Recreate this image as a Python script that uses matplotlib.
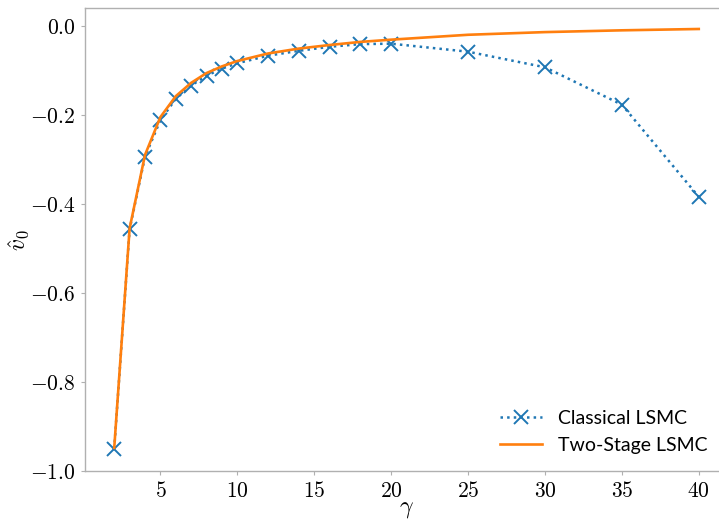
import matplotlib

matplotlib.use("Agg")
import matplotlib.pyplot as plt
from matplotlib.ticker import FuncFormatter

plt.rcParams["mathtext.fontset"] = "cm"

# gamma values and estimated initial values v0
gammas = [2, 3, 4, 5, 6, 7, 8, 9, 10, 12, 14, 16, 18, 20, 25, 30, 35, 40]
classical = [-0.950, -0.457, -0.294, -0.212, -0.164, -0.134, -0.112, -0.096,
             -0.084, -0.067, -0.056, -0.047, -0.041, -0.040, -0.058, -0.093,
             -0.177, -0.384]
two_stage = [-0.948, -0.455, -0.290, -0.205, -0.158, -0.128, -0.106, -0.091,
             -0.079, -0.062, -0.051, -0.043, -0.036, -0.031, -0.020, -0.014,
             -0.010, -0.007]

fig = plt.figure(figsize=(7.19, 5.21), dpi=100)
ax = fig.add_axes([85 / 719, 50 / 521, 643 / 719, 463 / 521])

ax.plot(gammas, classical, linestyle=":", marker="x", color="#1f77b4",
        linewidth=1.8, markersize=9.5, markeredgewidth=1.4,
        label="Classical LSMC")
ax.plot(gammas, two_stage, linestyle="-", color="#ff7f0e",
        linewidth=1.9, label="Two-Stage LSMC")

ax.set_xticks([5, 10, 15, 20, 25, 30, 35, 40])
ax.set_yticks([0.0, -0.2, -0.4, -0.6, -0.8, -1.0])
ax.xaxis.set_major_formatter(FuncFormatter(lambda v, _: f"${int(v)}$"))
ax.yaxis.set_major_formatter(FuncFormatter(lambda v, _: f"${v:.1f}$"))
ax.tick_params(axis="both", which="major", labelsize=15.5, length=3,
               width=0.8, color="#b0b0b0", pad=4)

for side in ax.spines.values():
    side.set_color("#b0b0b0")
    side.set_linewidth(1.0)

ax.set_xlabel(r"$\gamma$", fontsize=17)
ax.set_ylabel(r"$\hat{v}_0$", fontsize=17)
ax.xaxis.set_label_coords(0.5, -0.054)
ax.yaxis.set_label_coords(-0.082, 0.5)

ax.legend(loc="lower right", frameon=False, prop={"family": "Lato", "size": 14},
          handlelength=2.2, borderaxespad=0.0, bbox_to_anchor=(0.98, 0.02))

fig.savefig("out.png", dpi=100)
